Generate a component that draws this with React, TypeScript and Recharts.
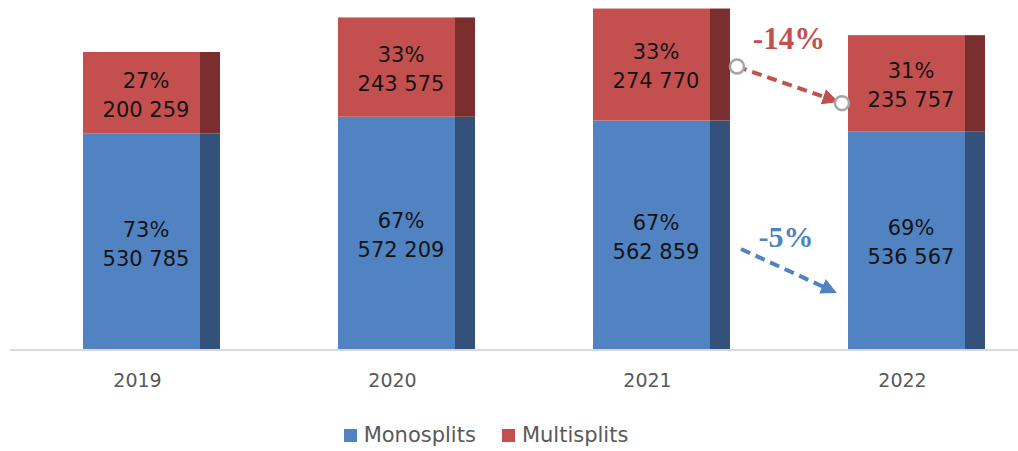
import { BarChart, Bar, XAxis, YAxis, Legend } from "recharts";

const years = ["2019", "2020", "2021", "2022"];
const monosplits = [530785, 572209, 562859, 536567];
const multisplits = [200259, 243575, 274770, 235757];
const monoShare = ["73%", "67%", "67%", "69%"];
const multiShare = ["27%", "33%", "33%", "31%"];
const multiChange = "-14%";
const monoChange = "-5%";

const BLUE = "#5183C3";
const BLUE_DARK = "#33517A";
const RED = "#C3504E";
const RED_DARK = "#7A2E2D";
const FONT = "'DejaVu Sans', Verdana, sans-serif";
const SIDE = 20; // width of the darker "3d" side strip
const BAND = 255; // category band width in px

const fmt = (v: number) => {
  const s = String(v);
  return s.slice(0, s.length - 3) + " " + s.slice(-3);
};

const data = years.map((year, i) => ({
  year,
  mono: monosplits[i],
  multi: multisplits[i],
}));

function Annotations({ x, y, width, height, index }: any) {
  // everything derived from the 2022 multisplits segment
  const ppu = height / multisplits[index];
  const base = y + height + monosplits[index] * ppu;
  const prevRight = x - BAND + width;
  const prevTop = base - (monosplits[index - 1] + multisplits[index - 1]) * ppu;
  const r1 = { x: prevRight + 7, y: prevTop + 58 };
  const r2 = { x: x - 6, y: y + 68 };
  const b1 = { x: prevRight + 11, y: base - 101 };
  const b2 = { x: x - 22, y: base - 62 };
  const midX = (prevRight + x) / 2;
  return (
    <g>
      <defs>
        <marker id="headRed" markerWidth="4" markerHeight="4" refX="1.5" refY="2" orient="auto" markerUnits="strokeWidth">
          <path d="M0,0 L4,2 L0,4 Z" fill={RED} />
        </marker>
        <marker id="headBlue" markerWidth="4" markerHeight="4" refX="1" refY="2" orient="auto" markerUnits="strokeWidth">
          <path d="M0,0 L4,2 L0,4 Z" fill={BLUE} />
        </marker>
      </defs>
      <line
        x1={r1.x}
        y1={r1.y}
        x2={r2.x - 13}
        y2={r2.y - 4.5}
        stroke={RED}
        strokeWidth={4}
        strokeDasharray="10 6"
        markerEnd="url(#headRed)"
      />
      <circle cx={r1.x} cy={r1.y} r={7} fill="#fff" stroke="#A6A6A6" strokeWidth={2.5} />
      <circle cx={r2.x} cy={r2.y} r={7} fill="#fff" stroke="#A6A6A6" strokeWidth={2.5} />
      <text x={midX} y={prevTop + 40} textAnchor="middle" fill={RED} fontFamily="'Liberation Serif', serif" fontWeight="bold" fontSize={31}>
        {multiChange}
      </text>
      <line
        x1={b1.x}
        y1={b1.y}
        x2={b2.x}
        y2={b2.y}
        stroke={BLUE}
        strokeWidth={4}
        strokeDasharray="10 6"
        markerEnd="url(#headBlue)"
      />
      <text x={midX - 3} y={base - 103} textAnchor="middle" fill={BLUE} fontFamily="'Liberation Serif', serif" fontWeight="bold" fontSize={30}>
        {monoChange}
      </text>
    </g>
  );
}

const makeShape = (front: string, side: string, shares: string[], values: number[], annotate: boolean) =>
  (props: any) => {
    const { x, y, width, height, index } = props;
    const fw = width - SIDE;
    const cx = x + fw / 2 + 4.5;
    const mid = y + height / 2 + 1.5;
    return (
      <g>
        <rect x={x} y={y} width={fw} height={height} fill={front} />
        <rect x={x + fw} y={y} width={SIDE} height={height} fill={side} />
        <text x={cx} y={mid - 6.8} textAnchor="middle" fontFamily={FONT} fontSize={21} fill="#141414">
          {shares[index]}
        </text>
        <text x={cx} y={mid + 22.2} textAnchor="middle" fontFamily={FONT} fontSize={21} fill="#141414">
          {fmt(values[index])}
        </text>
        {annotate && index === years.length - 1 ? <Annotations {...props} /> : null}
      </g>
    );
  };

const YearTick = ({ x, y, payload }: any) => (
  <text x={x - SIDE / 2 - 4} y={y + 29} textAnchor="middle" fontFamily={FONT} fontSize={19} fill="#595959">
    {payload.value}
  </text>
);

const LegendContent = () => (
  <div
    style={{
      display: "flex",
      justifyContent: "center",
      alignItems: "center",
      height: 41,
      paddingTop: 9,
      boxSizing: "border-box",
      fontFamily: FONT,
      fontSize: 21,
      color: "#595959",
    }}
  >
    <span style={{ display: "inline-block", width: 13, height: 13, background: BLUE, marginRight: 7 }} />
    <span style={{ marginRight: 26 }}>Monosplits</span>
    <span style={{ display: "inline-block", width: 13, height: 13, background: RED, marginRight: 7 }} />
    <span>Multisplits</span>
  </div>
);

export default function App() {
  return (
    <div
      style={{
        position: "absolute",
        left: 0,
        top: 0,
        width: 1018,
        height: 451,
        overflow: "hidden",
        background: "#fff",
      }}
    >
      <BarChart
        width={1044}
        height={451}
        data={data}
        margin={{ top: 3.5, right: 0, left: 10, bottom: 0 }}
        barSize={137}
      >
        <XAxis
          dataKey="year"
          padding={{ left: 14, right: 0 }}
          axisLine={{ stroke: "#D9D9D9", strokeWidth: 2 }}
          tickLine={false}
          height={60}
          tick={<YearTick />}
        />
        <YAxis hide domain={[0, 850000]} />
        <Legend
          verticalAlign="bottom"
          content={<LegendContent />}
          wrapperStyle={{ left: 0, width: 972 }}
        />
        <Bar
          dataKey="mono"
          stackId="a"
          fill={BLUE}
          isAnimationActive={false}
          shape={makeShape(BLUE, BLUE_DARK, monoShare, monosplits, false)}
        />
        <Bar
          dataKey="multi"
          stackId="a"
          fill={RED}
          isAnimationActive={false}
          shape={makeShape(RED, RED_DARK, multiShare, multisplits, true)}
        />
      </BarChart>
    </div>
  );
}
